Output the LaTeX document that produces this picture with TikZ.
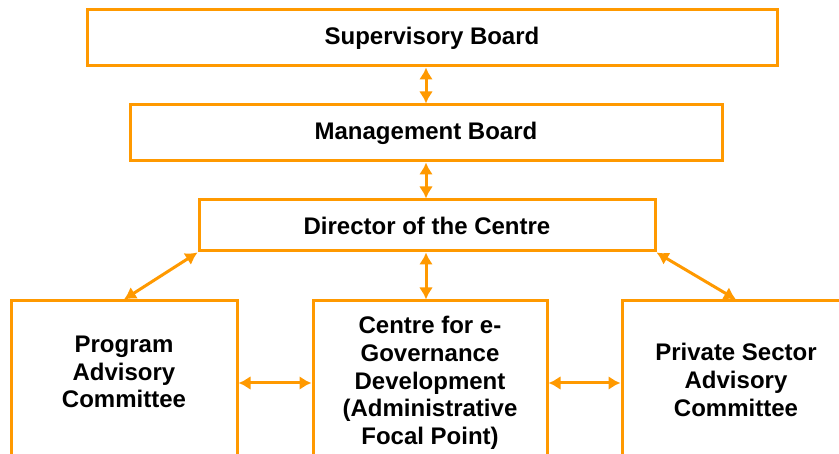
\documentclass[tikz,border=0pt]{standalone}
\usepackage{fontspec}
\setmainfont{Liberation Sans}
\usetikzlibrary{arrows.meta}
\definecolor{orgline}{RGB}{255,153,0}
\tikzset{
  box/.style={draw=orgline, line width=3pt, inner sep=0pt, align=center,
    font=\bfseries\fontsize{24}{27.7}\selectfont},
  link/.style={draw=orgline, line width=3pt,
    {Latex[length=12pt,width=14pt]}-{Latex[length=12pt,width=14pt]}}
}
\begin{document}
\begin{tikzpicture}[x=1pt, y=-1pt]
        \useasboundingbox (0,0) rectangle (839,454);
        \clip (0,0) rectangle (839,454);

        % Boards
        \node[box, minimum width=690pt, minimum height=56pt] (sup) at (432,38) {Supervisory Board};
        \node[box, minimum width=592pt, minimum height=56pt] (mgmt) at (426,133) {Management Board};
        \node[box, minimum width=456pt, minimum height=51pt] (dir) at (427,225.5) {Director of the Centre};

        % Committees (cut at the bottom)
        \node[box, minimum width=226pt, minimum height=164pt, text depth=22pt] (prog) at (124,383) {Program\\Advisory\\Committee};
        \node[box, minimum width=234pt, minimum height=164pt] (ctr) at (430,383) {Centre for e-\\Governance\\Development\\(Administrative\\Focal Point)};
        \node[box, minimum width=228pt, minimum height=164pt, text depth=6pt] (priv) at (736,383) {Private Sector\\Advisory\\Committee};

        % Links
        \draw[link] (sup.south -| mgmt.north) -- (mgmt.north);
        \draw[link] (mgmt.south) -- (dir.north -| mgmt.south);
        \draw[link] (dir.south -| mgmt.south) -- (ctr.north -| mgmt.south);
        \draw[link] (dir.south west) -- (prog.north);
        \draw[link] (dir.south east) -- (priv.north);
        \draw[link] (prog.east) -- (ctr.west);
        \draw[link] (ctr.east) -- (priv.west);

    \end{tikzpicture}
\end{document}
